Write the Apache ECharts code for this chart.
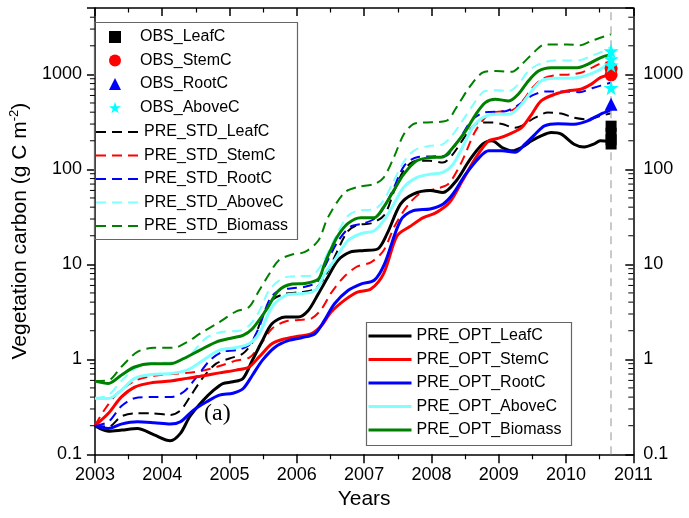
<!DOCTYPE html>
<html><head><meta charset="utf-8">
<script src="https://cdn.jsdelivr.net/npm/echarts@6/dist/echarts.min.js"></script>
<style>html,body{margin:0;padding:0;background:#fff}#c{width:689px;height:518px}</style>
</head><body><div id="c"></div>
<script>
// ---------- data ----------
const xMin = 2003, xMax = 2011, yMin = 0.1, yMax = 5000;
const xTicks = [2003, 2004, 2005, 2006, 2007, 2008, 2009, 2010, 2011];
const yTickLabels = [0.1, 1, 10, 100, 1000];
const obsYear = 2010.67;

const obsLeafC = [285, 240, 205, 185];
const obsStemC = [990, 1150];
const obsRootC = [485];
const obsAboveC = [1760, 1450, 1250, 725];

const stdLeafC = [[2003,0.2],[2003.2,0.195],[2003.39,0.25],[2003.59,0.27],[2003.83,0.27],[2004.12,0.26],[2004.27,0.29],[2004.41,0.40],[2004.61,0.65],[2004.8,0.90],[2005.0,1.02],[2005.2,1.15],[2005.34,1.52],[2005.49,2.79],[2005.63,4.2],[2005.83,4.9],[2006.07,5.1],[2006.27,5.5],[2006.41,7.3],[2006.56,11.9],[2006.75,22],[2006.9,26],[2007.1,27],[2007.3,33],[2007.45,60],[2007.6,100],[2007.78,123],[2007.98,123],[2008.17,118],[2008.32,145],[2008.56,254],[2008.71,311],[2008.9,311],[2009.05,300],[2009.24,275],[2009.34,287],[2009.54,350],[2009.73,396],[2009.93,387],[2010.12,350],[2010.32,337],[2010.51,365],[2010.67,390]];
const stdStemC = [[2003,0.2],[2003.15,0.3],[2003.35,0.45],[2003.63,0.61],[2003.88,0.67],[2004.12,0.70],[2004.37,0.72],[2004.61,0.76],[2004.85,0.85],[2005.1,0.97],[2005.3,1.05],[2005.45,1.4],[2005.63,2.1],[2005.83,2.5],[2006.02,2.6],[2006.22,2.7],[2006.37,3.4],[2006.51,5],[2006.71,7.5],[2006.9,9.5],[2007.1,10.5],[2007.29,14],[2007.45,25],[2007.65,42],[2007.85,57],[2008.05,62],[2008.25,70],[2008.45,120],[2008.65,250],[2008.85,380],[2009.05,410],[2009.2,420],[2009.35,520],[2009.5,720],[2009.65,900],[2009.85,980],[2010.05,1000],[2010.22,1040],[2010.41,1200],[2010.51,1300],[2010.67,1350]];
const stdRootC = [[2003,0.2],[2003.2,0.22],[2003.39,0.32],[2003.59,0.39],[2003.83,0.40],[2004.12,0.40],[2004.32,0.455],[2004.51,0.65],[2004.71,0.98],[2004.9,1.2],[2005.1,1.25],[2005.29,1.41],[2005.44,2.19],[2005.59,4.2],[2005.73,5.3],[2005.93,5.6],[2006.12,5.8],[2006.3,6.5],[2006.41,9.3],[2006.6,17],[2006.8,25],[2007.0,27],[2007.2,32],[2007.4,55],[2007.6,110],[2007.8,135],[2008.0,137],[2008.2,138],[2008.4,200],[2008.6,330],[2008.8,400],[2009.1,410],[2009.3,480],[2009.5,600],[2009.7,660],[2010.0,660],[2010.2,650],[2010.4,720],[2010.67,820]];
const stdAboveC = [[2003,0.39],[2003.2,0.42],[2003.4,0.6],[2003.63,0.83],[2003.88,0.92],[2004.15,0.93],[2004.37,1.05],[2004.66,1.69],[2004.9,1.95],[2005.15,2.0],[2005.3,2.3],[2005.45,3.3],[2005.6,5.5],[2005.83,7.3],[2006.02,7.5],[2006.22,7.6],[2006.37,10],[2006.55,18],[2006.75,32],[2006.9,36.7],[2007.15,38],[2007.29,47],[2007.44,76],[2007.63,133],[2007.78,163],[2007.98,177],[2008.17,184],[2008.32,234],[2008.46,324],[2008.66,525],[2008.8,668],[2009.0,680],[2009.15,668],[2009.29,785],[2009.44,1084],[2009.59,1273],[2009.83,1400],[2010.02,1400],[2010.22,1420],[2010.41,1600],[2010.51,1700],[2010.67,1950]];
const stdBiomass = [[2003,0.59],[2003.2,0.60],[2003.39,0.83],[2003.63,1.2],[2003.88,1.32],[2004.17,1.32],[2004.37,1.52],[2004.56,1.86],[2004.85,2.47],[2005.1,3.2],[2005.29,3.55],[2005.44,5.3],[2005.59,7.9],[2005.73,11],[2005.93,12.7],[2006.12,13.5],[2006.32,17.8],[2006.46,31],[2006.71,57],[2006.9,65],[2007.15,70],[2007.29,82],[2007.44,133],[2007.59,234],[2007.73,299],[2007.88,311],[2008.22,324],[2008.37,447],[2008.56,725],[2008.76,1042],[2008.95,1085],[2009.2,1067],[2009.34,1273],[2009.54,1757],[2009.68,2065],[2010.02,2065],[2010.22,2032],[2010.37,2239],[2010.51,2427],[2010.67,2650]];

const optLeafC = [[2003,0.2],[2003.2,0.175],[2003.4,0.18],[2003.63,0.187],[2003.88,0.16],[2004.12,0.139],[2004.27,0.166],[2004.41,0.25],[2004.61,0.37],[2004.76,0.47],[2004.9,0.556],[2005.05,0.58],[2005.2,0.63],[2005.34,0.98],[2005.49,1.58],[2005.63,2.37],[2005.83,2.79],[2006.02,2.79],[2006.17,3.27],[2006.32,4.9],[2006.46,7.3],[2006.61,11],[2006.8,13.5],[2007.0,14],[2007.2,14.5],[2007.34,20.9],[2007.54,43],[2007.73,55],[2007.98,60],[2008.17,57],[2008.37,76],[2008.56,123],[2008.76,184],[2008.9,200],[2009.05,170],[2009.2,157],[2009.34,170],[2009.49,200],[2009.63,225],[2009.78,244],[2009.93,235],[2010.12,184],[2010.27,172],[2010.41,184],[2010.51,200],[2010.67,195]];
const optStemC = [[2003,0.2],[2003.2,0.27],[2003.39,0.40],[2003.59,0.51],[2003.83,0.565],[2004.12,0.59],[2004.37,0.63],[2004.61,0.67],[2004.85,0.72],[2005.1,0.77],[2005.29,0.83],[2005.44,1.06],[2005.63,1.46],[2005.83,1.65],[2006.02,1.75],[2006.22,1.86],[2006.37,2.28],[2006.51,3.15],[2006.71,4.2],[2006.9,5.1],[2007.1,5.5],[2007.29,8],[2007.49,20],[2007.68,25],[2007.88,31],[2008.07,35],[2008.27,45],[2008.46,76],[2008.66,133],[2008.85,200],[2009.0,213],[2009.15,234],[2009.34,275],[2009.49,380],[2009.63,525],[2009.83,617],[2010.02,668],[2010.22,697],[2010.37,785],[2010.51,923],[2010.67,1000]];
const optRootC = [[2003,0.2],[2003.2,0.187],[2003.39,0.208],[2003.63,0.22],[2003.88,0.215],[2004.12,0.208],[2004.27,0.22],[2004.46,0.29],[2004.66,0.357],[2004.85,0.42],[2005.05,0.44],[2005.2,0.49],[2005.34,0.68],[2005.49,0.98],[2005.68,1.35],[2005.88,1.58],[2006.07,1.69],[2006.27,1.86],[2006.41,2.57],[2006.56,3.85],[2006.76,5.3],[2006.95,6.2],[2007.15,6.8],[2007.3,10],[2007.54,28.8],[2007.73,36.7],[2007.98,38.3],[2008.17,43],[2008.32,55],[2008.51,89],[2008.71,133],[2008.85,157],[2009.05,157],[2009.24,151],[2009.39,184],[2009.54,234],[2009.68,287],[2009.88,303],[2010.12,299],[2010.32,324],[2010.51,380],[2010.67,420]];
const optAboveC = [[2003,0.39],[2003.2,0.387],[2003.39,0.47],[2003.59,0.63],[2003.83,0.69],[2004.12,0.71],[2004.37,0.77],[2004.61,0.98],[2004.85,1.25],[2005.1,1.33],[2005.29,1.46],[2005.44,1.86],[2005.63,3.55],[2005.83,4.7],[2006.02,4.9],[2006.22,5.1],[2006.32,5.8],[2006.41,7.9],[2006.56,11],[2006.76,17.8],[2006.95,21],[2007.15,22.6],[2007.29,28.8],[2007.44,43],[2007.59,65],[2007.78,82],[2007.98,89],[2008.17,93],[2008.32,113],[2008.46,170],[2008.61,275],[2008.76,350],[2008.95,380],[2009.15,380],[2009.34,484],[2009.49,668],[2009.63,851],[2009.83,908],[2010.02,908],[2010.22,937],[2010.41,1042],[2010.51,1130],[2010.67,1350]];
const optBiomass = [[2003,0.59],[2003.2,0.556],[2003.39,0.68],[2003.59,0.83],[2003.83,0.90],[2004.12,0.90],[2004.32,1.02],[2004.56,1.25],[2004.8,1.52],[2005.05,1.69],[2005.2,1.79],[2005.34,2.1],[2005.54,3.27],[2005.73,5.3],[2005.93,6.2],[2006.12,6.3],[2006.32,7.0],[2006.41,10],[2006.5,14],[2006.61,20],[2006.76,27],[2006.95,31],[2007.15,31],[2007.29,40],[2007.44,60],[2007.59,89],[2007.78,123],[2007.98,133],[2008.17,135],[2008.32,170],[2008.51,254],[2008.66,380],[2008.8,505],[2008.95,547],[2009.15,525],[2009.29,617],[2009.44,851],[2009.59,1084],[2009.78,1175],[2009.98,1175],[2010.17,1175],[2010.32,1273],[2010.51,1496],[2010.67,1620]];

// ---------- chart ----------
const FONT = "'Liberation Sans', Arial, sans-serif";
const STAR = 'path://M50,0 L61,35 L98,35 L68,57 L79,91 L50,70 L21,91 L32,57 L2,35 L39,35 Z';
const C = {black:'#000000', red:'#ff0000', blue:'#0000ff', cyan:'#80ffff', green:'#008000'};

function lineSeries(name, data, color, dashed) {
  return {
    name, type:'line', data, smooth:0.3, symbol:'none', showSymbol:false,
    lineStyle:{color, width: dashed ? 2 : 3, type: dashed ? [10,6] : 'solid'},
    itemStyle:{color}, z: dashed ? 2 : 3, silent:true, animation:false
  };
}
function obsSeries(name, vals, symbol, size, color) {
  return {
    name, type:'scatter', data: vals.map(v => [obsYear, v]), symbol, symbolSize:size,
    itemStyle:{color, opacity:1}, z:6, silent:true, animation:false
  };
}

const minorVals = [];
for (let e = -1; e <= 3; e++) for (let m = 2; m <= 9; m++) { const v = m * Math.pow(10, e); if (v < yMax) minorVals.push(v); }

const isDecade = v => { const l = Math.log10(v); return Math.abs(l - Math.round(l)) < 1e-6; };
const yFmt = v => (isDecade(v) && yTickLabels.some(t => Math.abs(t - v) / t < 1e-6)) ? (v < 1 ? '0.1' : String(Math.round(v))) : '';

const axisLine = {show:true, lineStyle:{color:'#000', width:1.5}};
const legendText = {fontSize:16, fontFamily:FONT, color:'#000'};

const series = [
  lineSeries('PRE_STD_LeafC', stdLeafC, C.black, true),
  lineSeries('PRE_STD_StemC', stdStemC, C.red, true),
  lineSeries('PRE_STD_RootC', stdRootC, C.blue, true),
  lineSeries('PRE_STD_AboveC', stdAboveC, C.cyan, true),
  lineSeries('PRE_STD_Biomass', stdBiomass, C.green, true),
  lineSeries('PRE_OPT_LeafC', optLeafC, C.black, false),
  lineSeries('PRE_OPT_StemC', optStemC, C.red, false),
  lineSeries('PRE_OPT_RootC', optRootC, C.blue, false),
  lineSeries('PRE_OPT_AboveC', optAboveC, C.cyan, false),
  lineSeries('PRE_OPT_Biomass', optBiomass, C.green, false),
  obsSeries('OBS_LeafC', obsLeafC, 'rect', 11, '#000000'),
  obsSeries('OBS_StemC', obsStemC, 'circle', 13, '#ff0000'),
  obsSeries('OBS_RootC', obsRootC, 'triangle', 13, '#0000ff'),
  obsSeries('OBS_AboveC', obsAboveC, STAR, 15, '#00ffff'),
  {
    type:'custom', coordinateSystem:'cartesian2d', silent:true, z:8, clip:false, animation:false,
    data: minorVals.map(v => [xMin, v]),
    renderItem: (params, api) => {
      const v = api.value(1);
      const pL = api.coord([xMin, v]), pR = api.coord([xMax, v]);
      return {type:'group', children:[
        {type:'line', shape:{x1:pL[0]-5, y1:pL[1], x2:pL[0], y2:pL[1]}, style:{stroke:'#000', lineWidth:1}},
        {type:'line', shape:{x1:pR[0]-5, y1:pR[1], x2:pR[0], y2:pR[1]}, style:{stroke:'#000', lineWidth:1}}
      ]};
    }
  },
  {
    type:'line', data:[], silent:true, z:9, animation:false,
    markLine:{silent:true, symbol:['none','none'], label:{show:false}, animation:false,
      lineStyle:{color:'#b8b8b8', type:[8,6], width:1.5},
      data:[{xAxis: obsYear}]}
  }
];

const chart = echarts.init(document.getElementById('c'), null, {renderer:'canvas'});
chart.setOption({
  backgroundColor:'#fff',
  animation:false,
  grid:{left:86.7, right:55.7, top:8, bottom:63.7, containLabel:false},
  xAxis:[
    {type:'value', min:xMin, max:xMax, interval:1, position:'bottom',
     name:'Years', nameLocation:'middle', nameGap:33,
     nameTextStyle:{fontSize:21, fontFamily:FONT, color:'#000'},
     axisLine, axisTick:{show:true, length:9, lineStyle:{color:'#000', width:1.5}},
     minorTick:{show:true, splitNumber:2, length:5, lineStyle:{color:'#000', width:1.2}},
     splitLine:{show:false}, minorSplitLine:{show:false},
     axisLabel:{fontSize:18, fontFamily:FONT, color:'#000', margin:12, formatter: v => String(v)}},
    {type:'value', min:xMin, max:xMax, interval:1, position:'top',
     axisLine, axisTick:{show:true, inside:true, length:8, lineStyle:{color:'#000', width:1.5}},
     minorTick:{show:true, splitNumber:2, length:4.5, lineStyle:{color:'#000', width:1.2}},
     splitLine:{show:false}, axisLabel:{show:false}}
  ],
  yAxis:[
    {type:'log', logBase:10, min:yMin, max:yMax, position:'left',
     name:'{a|Vegetation carbon (g C m}{s|-2}{a|)}', nameLocation:'middle', nameGap:46, nameRotate:90,
     nameTextStyle:{fontSize:21, fontFamily:FONT, color:'#000',
       rich:{a:{fontSize:21, fontFamily:FONT, color:'#000'}, s:{fontSize:13, fontFamily:FONT, color:'#000', verticalAlign:'top', padding:[0,0,12,0]}}},
     axisLine, axisTick:{show:true, length:8, lineStyle:{color:'#000', width:1.5}},
     splitLine:{show:false},
     axisLabel:{fontSize:18, fontFamily:FONT, color:'#000', margin:13, formatter:yFmt}},
    {type:'log', logBase:10, min:yMin, max:yMax, position:'right',
     axisLine, axisTick:{show:true, inside:true, length:8, lineStyle:{color:'#000', width:1.5}},
     splitLine:{show:false},
     axisLabel:{fontSize:18, fontFamily:FONT, color:'#000', margin:10, formatter:yFmt}}
  ],
  legend:[
    {orient:'vertical', left:109, top:29, padding:0, itemWidth:12, itemHeight:12, itemGap:7.5, selectedMode:false,
     data:['OBS_LeafC','OBS_StemC','OBS_RootC','OBS_AboveC'],
     textStyle:Object.assign({padding:[0,0,0,14]}, legendText)},
    {orient:'vertical', left:95, top:124, padding:0, itemWidth:43, itemHeight:14, itemGap:7.5, selectedMode:false,
     itemStyle:{opacity:0}, lineStyle:{width:2},
     data:['PRE_STD_LeafC','PRE_STD_StemC','PRE_STD_RootC','PRE_STD_AboveC','PRE_STD_Biomass'],
     textStyle:legendText},
    {orient:'vertical', left:367, top:328, padding:0, itemWidth:43, itemHeight:14, itemGap:7.5, selectedMode:false,
     itemStyle:{opacity:0}, lineStyle:{width:3},
     data:['PRE_OPT_LeafC','PRE_OPT_StemC','PRE_OPT_RootC','PRE_OPT_AboveC','PRE_OPT_Biomass'],
     textStyle:legendText}
  ],
  graphic:[
    {type:'rect', left:92, top:20, shape:{width:203, height:217}, style:{fill:'none', stroke:'#666', lineWidth:1.2}, z:1, silent:true},
    {type:'rect', left:364, top:320, shape:{width:205, height:123}, style:{fill:'none', stroke:'#666', lineWidth:1.2}, z:1, silent:true},
    {type:'text', left:204, top:402, style:{text:'(a)', font:"24px 'Liberation Serif', 'Times New Roman', serif", fill:'#000'}, silent:true}
  ],
  series
});
</script>
</body></html>
